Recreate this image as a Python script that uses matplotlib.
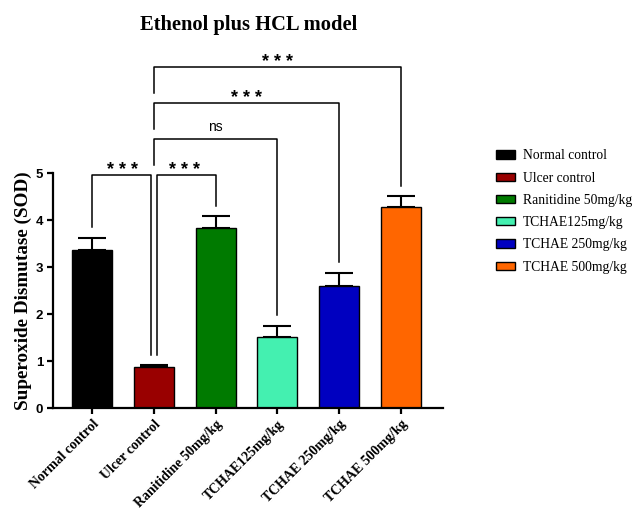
import matplotlib
matplotlib.use("Agg")
import matplotlib.pyplot as plt
from matplotlib.patches import Patch

categories = ["Normal control", "Ulcer control", "Ranitidine 50mg/kg",
              "TCHAE125mg/kg", "TCHAE 250mg/kg", "TCHAE 500mg/kg"]
means = [3.36, 0.87, 3.82, 1.52, 2.60, 4.28]
errors = [0.26, 0.04, 0.27, 0.22, 0.28, 0.24]
colors = ["#000000", "#990000", "#007A00", "#44F0B0", "#0000C0", "#FF6600"]
yticks = [0, 1, 2, 3, 4, 5]

# comparisons: (i, j, label, bracket y, left drop end y, right drop end y, x offset left, x offset right)
comparisons = [
    (0, 1, "* * *", 4.96, 3.85, 1.13, 0.0, -0.05),
    (1, 2, "* * *", 4.96, 1.13, 4.30, 0.05, 0.0),
    (1, 3, "ns", 5.72, 5.17, 1.98, 0.0, 0.0),
    (1, 4, "* * *", 6.49, 5.94, 3.10, 0.0, 0.0),
    (1, 5, "* * *", 7.26, 6.71, 4.73, 0.0, 0.0),
]

fig = plt.figure(figsize=(6.35, 5.11), dpi=100)
ax = fig.add_axes([53/635, (511-408)/511, (443-53)/635, 235/511])

x = list(range(len(categories)))
ax.bar(x, means, width=0.65, color=colors, edgecolor="black", linewidth=1.0, zorder=2)
ax.errorbar(x, means, yerr=[[0]*len(errors), errors], fmt="none", ecolor="black",
            elinewidth=1.5, capsize=10, capthick=1.5, zorder=1)

ax.set_xlim(-0.632, 5.68)
ax.set_ylim(0, 5)
ax.set_yticks(yticks)
ax.set_yticklabels([str(t) for t in yticks], fontfamily="Liberation Sans",
                   fontweight="bold", fontsize=9.5)
ax.set_xticks(x)
ax.set_xticklabels(categories, rotation=45, ha="right", rotation_mode="anchor",
                   fontfamily="Liberation Serif", fontweight="bold", fontsize=10)
for s in ["top", "right"]:
    ax.spines[s].set_visible(False)
for s in ["left", "bottom"]:
    ax.spines[s].set_linewidth(1.6)
ax.tick_params(axis="both", width=1.6, length=4, pad=3)

ax.set_ylabel("Superoxide Dismutase (SOD)", fontfamily="Liberation Serif",
              fontweight="bold", fontsize=13.8, labelpad=3)
fig.text(249/635, 1 - 25/511, "Ethenol plus HCL model", ha="center", va="center",
         fontfamily="Liberation Serif", fontweight="bold", fontsize=14.8)

for i, j, lab, yb, yl, yr, ol, orr in comparisons:
    xl = i + ol
    xr = j + orr
    ax.plot([xl, xl, xr, xr], [yl, yb, yb, yr], color="black", lw=1.1,
            clip_on=False, zorder=3)
    if lab == "ns":
        ax.text((i + j) / 2, yb + 0.26, lab, ha="center", va="center",
                fontfamily="Liberation Sans", fontsize=10, clip_on=False)
    else:
        ax.text((i + j) / 2, yb + 0.10, lab, ha="center", va="center",
                fontfamily="Liberation Sans", fontsize=13, fontweight="bold",
                clip_on=False)

handles = [Patch(facecolor=c, edgecolor="black", linewidth=1.0) for c in colors]
leg = fig.legend(handles, categories, loc="upper left",
                 bbox_to_anchor=(484/635, 1 - 137/511), frameon=False,
                 prop={"family": "Liberation Serif", "size": 9.8},
                 handlelength=1.4, handleheight=0.55, labelspacing=0.68,
                 handletextpad=0.55)

fig.savefig("out.png", dpi=100)
